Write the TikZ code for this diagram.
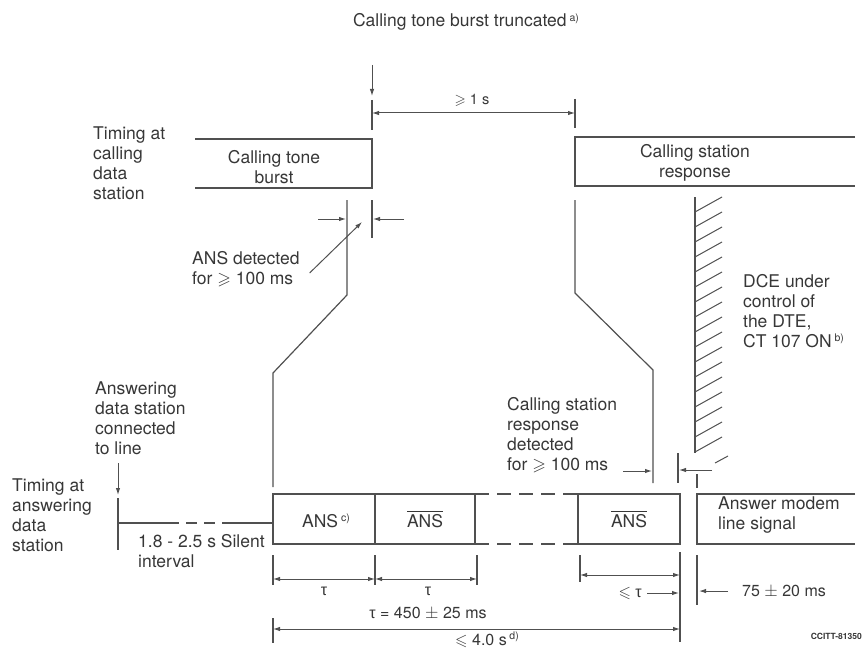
\documentclass[tikz,border=0pt]{standalone}
\usepackage{amssymb}
\usepackage{fontspec}
\setmainfont{TeX Gyre Heros}
\newfontfamily\grk{Liberation Sans}
\usetikzlibrary{arrows.meta}
\definecolor{inkgrey}{RGB}{80,80,80}
\definecolor{txtgrey}{RGB}{55,55,55}
\newcommand{\fnmark}[1]{\,\raisebox{0.6ex}{\fontsize{10.5}{11}\selectfont #1}}
\newcommand{\ansbar}{$\overline{\mbox{ANS}}$}
\newcommand{\tauup}{{\grk τ}}

\begin{document}
\begin{tikzpicture}[x=1pt,y=-1pt,
  every node/.style={font=\fontsize{17.5}{20}\selectfont,text=txtgrey,inner sep=0pt},
  lbl/.style={align=left,anchor=north west},
  mid/.style={align=center,anchor=north},
  dimtxt/.style={anchor=base,font=\fontsize{16}{18}\selectfont},
  seg/.style={draw=inkgrey,line width=1.2pt},
  band/.style={draw=inkgrey,line width=2pt},
  tick/.style={draw=inkgrey,line width=1.2pt},
  ar/.style={-{Latex[length=7pt,width=4.5pt]},draw=inkgrey,line width=1pt},
  dim/.style={{Latex[length=7pt,width=4.5pt]}-{Latex[length=7pt,width=4.5pt]},draw=inkgrey,line width=1pt},
  gap/.style={draw=inkgrey,line width=2pt,dash pattern=on 14pt off 8pt}]
\useasboundingbox (0,0) rectangle (864,650);

\node[anchor=base] (title) at (466,27) {Calling tone burst truncated\fnmark{a)}};

% calling data station
\node[lbl] (tcall) at (93,127) {Timing at\\calling\\data\\station};
\draw[band] (195,139) -- (372,139) -- (372,188) -- (195,188);
\node[mid] (burst) at (274,150) {Calling tone\\burst};
\draw[band] (855,137) -- (575,137) -- (575,186) -- (855,186);
\node[mid] (resp) at (695,144) {Calling station\\response};

\draw[ar] (372,65) -- (372,96);
\draw[tick] (372,100) -- (372,130);
\draw[tick] (575,99) -- (575,128);
\draw[dim] (372,113) -- (575,113);
\node[anchor=base,font=\fontsize{14.5}{16}\selectfont] (onesec) at (472,105) {$\geqslant$ 1 s};

\draw[seg] (347,200) -- (347,295) -- (273,373) -- (273,487);
\draw[seg] (372,200) -- (372,238);
\draw[ar] (318,219) -- (346,219);
\draw[ar] (404,219) -- (373,219);
\node[lbl] (ansdet) at (192,251) {ANS detected\\for $\geqslant$ 100 ms};
\coordinate (ansgap) at (362,222);
\draw[ar] ([shift={(10,4)}]ansdet.east) -- (ansgap);

\draw[seg] (575,200) -- (575,293) -- (653,370) -- (653,483);

% DTE in control
\draw[draw=inkgrey,line width=2.6pt] (695,197) -- (695,453);
\foreach \y in {212,227,...,452} \draw[seg,line width=1pt] (695,\y) -- ++(27,-15);
\draw[seg,line width=1pt] (715,463) -- (728,456);
\draw[seg] (697,474) -- (697,488);
\node[lbl] (dce) at (743,274) {DCE under\\control of\\the DTE,\\CT 107 ON\fnmark{b)}};

\node[lbl] (csrdet) at (507,397) {Calling station\\response\\detected\\for $\geqslant$ 100 ms};
\coordinate (csrgap) at (652,471);
\draw[ar] (csrdet.east |- csrgap) ++(6,0) -- (csrgap);
\draw[seg] (678,453) -- (678,483);
\draw[ar] (712,470) -- (679,470);

% answering data station
\node[lbl] (tans) at (12,479) {Timing at\\answering\\data\\station};
\node[lbl] (online) at (95,382) {Answering\\data station\\connected\\to line};
\coordinate (conn) at (118,495);
\draw[ar] ([shift={(23,8)}]online.south west) -- (conn);
\draw[seg,line width=2.4pt] (118,498) -- (118,550);
\draw[seg] (118,523) -- (168,523);
\draw[seg,dash pattern=on 11pt off 7pt] (168,523) -- (233,523);
\draw[seg] (233,523) -- (273,523);
\node[lbl] (silent) at (138,534) {1.8 - 2.5 s Silent\\interval};

\draw[band] (273,494) rectangle (475,544);
\draw[band] (375,494) -- (375,544);
\draw[gap] (475,494) -- (578,494);
\draw[gap] (475,544) -- (578,544);
\draw[band] (578,494) rectangle (680,544);
\draw[band] (855,494) -- (697,494) -- (697,544) -- (855,544);
\node[anchor=base] (ans) at (326,527) {ANS\fnmark{c)}};
\node[anchor=base] (ansb1) at (425,527) {\ansbar};
\node[anchor=base] (ansb2) at (629,527) {\ansbar};
\node[lbl] (modem) at (718,497) {Answer modem\\line signal};

% durations
\foreach \x in {273,375,477} \draw[tick] (\x,555) -- (\x,585);
\draw[tick] (580,555) -- (580,582);
\draw[tick] (680,552) -- (680,642);
\draw[tick] (697,555) -- (697,605);
\draw[tick] (273,618) -- (273,643);
\draw[dim] (273,579) -- (375,579);
\draw[dim] (375,579) -- (477,579);
\draw[dim] (580,575) -- (680,575);
\draw[dim] (273,629) -- (680,629);
\node[dimtxt] (tau1) at (324,595) {\tauup};
\node[dimtxt] (tau2) at (428,595) {\tauup};
\node[dimtxt] (taueq) at (428,618) {\tauup{} = 450 $\pm$ 25 ms};
\node[dimtxt] (four) at (487,645) {$\leqslant$ 4.0 s\fnmark{d)}};
\node[dimtxt,anchor=base east] (letau) at (642,597) {$\leqslant$ \tauup};
\coordinate (lastend) at (679,0);
\draw[ar] ([xshift=5pt]letau.east) -- (letau.east -| lastend);
\node[dimtxt,anchor=base west] (ms75) at (742,596) {75 $\pm$ 20 ms};
\coordinate (modemend) at (699,0);
\draw[ar] ([xshift=-14pt]ms75.west) -- (ms75.west -| modemend);
\node[anchor=base east,font=\fontsize{8.5}{10}\selectfont\bfseries] (ccitt) at (862,639) {CCITT-81350};
\end{tikzpicture}
\end{document}
